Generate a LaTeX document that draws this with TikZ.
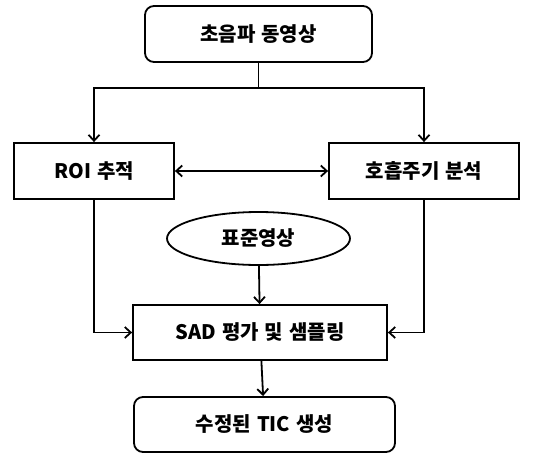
\documentclass[tikz,border=0pt]{standalone}
\usepackage{fontspec}
\setmainfont{Noto Sans CJK KR}[WordSpace=1.3]
\usepackage{tikz}
\usetikzlibrary{shapes, arrows.meta, positioning}

\tikzset{
    stepbox/.style={rectangle, draw, line width=1.8pt, minimum height=56pt, font=\fontsize{20}{22}\selectfont\bfseries},
    roundbox/.style={stepbox, rounded corners=9pt},
    flow/.style={line width=1.8pt, -{Straight Barb[length=6pt, width=11pt, line width=1.8pt]}},
}

\begin{document}
\begin{tikzpicture}[x=1pt, y=-1pt]
        \useasboundingbox (0, 0) rectangle (533, 453);

        \node[roundbox, minimum width=227pt] (video) at (258.5, 34) {초음파 동영상};
        \node[stepbox, minimum width=160pt] (roi) at (94, 171) {ROI 추적};
        \node[stepbox, minimum width=190pt] (resp) at (424, 171) {호흡주기 분석};
        \node[ellipse, draw, line width=1.8pt, minimum width=183pt, minimum height=53pt, font=\fontsize{20}{22}\selectfont\bfseries] (ref) at (258.5, 238.5) {표준영상};
        \node[stepbox, minimum width=254pt, minimum height=55pt] (sad) at (260, 332.5) {SAD 평가 및 샘플링};
        \node[roundbox, minimum width=261pt, minimum height=55pt] (tic) at (264.5, 424.5) {수정된 TIC 생성};

        \draw[flow] (video.south) -- ++(0, 25) -| (roi.north);
        \draw[flow] (video.south) -- ++(0, 25) -| (resp.north);
        \draw[flow, {Straight Barb[length=6pt, width=11pt, line width=1.8pt]}-{Straight Barb[length=6pt, width=11pt, line width=1.8pt]}] (roi) -- (resp);
        \draw[flow] (roi.south) |- (sad.west);
        \draw[flow] (resp.south) |- (sad.east);
        \draw[flow] (ref) -- (sad);
        \draw[flow] (sad) -- (tic);
    \end{tikzpicture}
\end{document}
